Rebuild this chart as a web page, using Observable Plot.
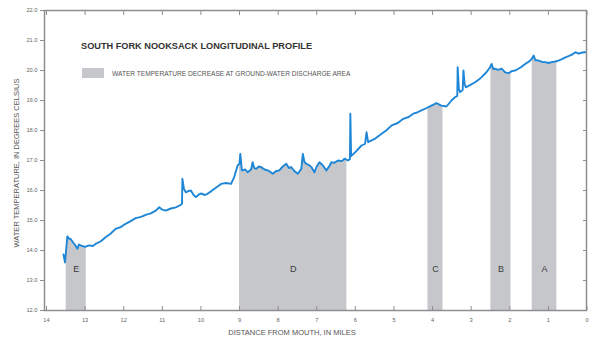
<!DOCTYPE html>
<html>
<head>
<meta charset="utf-8">
<script src="https://cdn.jsdelivr.net/npm/d3@7"></script>
<script src="https://cdn.jsdelivr.net/npm/@observablehq/plot@0.6"></script>
<style>
  html, body { margin: 0; padding: 0; background: #fff; }
  #chart svg { display: block; }
</style>
</head>
<body>
<div id="chart"></div>
<script>
// Longitudinal temperature profile of the South Fork Nooksack River
const miles = [
  13.56, 13.52, 13.46, 13.42, 13.38, 13.30, 13.25, 13.20, 13.16, 13.12, 13.00, 12.90, 12.80, 12.73,
  12.60, 12.47, 12.35, 12.21, 12.08, 11.95, 11.82, 11.69, 11.55, 11.43, 11.30, 11.17, 11.08, 11.00,
  10.91, 10.78, 10.65, 10.55, 10.49, 10.48, 10.44, 10.39, 10.33, 10.26, 10.19, 10.13, 10.06, 10.00,
  9.90, 9.83, 9.73, 9.65, 9.55, 9.48, 9.35, 9.22, 9.14, 9.05, 9.00, 8.98, 8.94, 8.85, 8.79, 8.70,
  8.66, 8.62, 8.57, 8.50, 8.44, 8.35, 8.27, 8.20, 8.14, 8.05, 7.97, 7.88, 7.79, 7.72, 7.66, 7.58,
  7.49, 7.40, 7.36, 7.32, 7.27, 7.20, 7.14, 7.06, 7.00, 6.93, 6.85, 6.75, 6.68, 6.62, 6.55, 6.45,
  6.35, 6.28, 6.19, 6.14, 6.13, 6.11, 6.00, 5.84, 5.75, 5.71, 5.67, 5.50, 5.32, 5.20, 5.06, 4.90,
  4.76, 4.62, 4.50, 4.40, 4.29, 4.15, 4.03, 3.90, 3.77, 3.64, 3.51, 3.42, 3.36, 3.35, 3.32, 3.29,
  3.22, 3.20, 3.17, 3.14, 3.02, 2.90, 2.80, 2.73, 2.60, 2.51, 2.47, 2.43, 2.38, 2.30, 2.21, 2.12,
  2.03, 1.95, 1.86, 1.72, 1.60, 1.50, 1.43, 1.38, 1.34, 1.25, 1.15, 1.08, 1.00, 0.91, 0.82, 0.74,
  0.65, 0.56, 0.48, 0.39, 0.30, 0.22, 0.12, 0.04
];
const temps = [
  13.87, 13.60, 14.47, 14.40, 14.39, 14.25, 14.17, 14.06, 14.20, 14.17, 14.12, 14.17, 14.15, 14.22,
  14.30, 14.44, 14.55, 14.72, 14.78, 14.89, 14.98, 15.08, 15.12, 15.19, 15.24, 15.33, 15.44, 15.36,
  15.33, 15.40, 15.44, 15.50, 15.56, 16.39, 16.05, 15.94, 15.98, 16.00, 15.85, 15.78, 15.86, 15.90,
  15.85, 15.89, 15.98, 16.06, 16.15, 16.22, 16.25, 16.22, 16.44, 16.83, 16.90, 17.22, 16.67, 16.70,
  16.61, 16.70, 16.94, 16.75, 16.72, 16.80, 16.78, 16.70, 16.67, 16.62, 16.56, 16.65, 16.67, 16.80,
  16.89, 16.75, 16.78, 16.65, 16.56, 16.72, 17.22, 16.95, 16.89, 16.85, 16.78, 16.61, 16.80, 16.94,
  16.85, 16.67, 16.80, 16.94, 16.92, 17.00, 16.98, 17.06, 17.00, 17.05, 18.56, 17.15, 17.28, 17.50,
  17.55, 17.94, 17.61, 17.72, 17.89, 18.00, 18.17, 18.25, 18.39, 18.45, 18.56, 18.60, 18.67, 18.75,
  18.83, 18.91, 18.83, 18.80, 19.00, 19.11, 19.15, 20.11, 19.40, 19.28, 19.35, 20.00, 19.55, 19.44,
  19.52, 19.61, 19.70, 19.78, 19.95, 20.11, 20.22, 20.05, 20.06, 20.02, 20.06, 19.94, 19.91, 19.98,
  20.00, 20.10, 20.22, 20.30, 20.39, 20.50, 20.35, 20.33, 20.28, 20.28, 20.25, 20.28, 20.30, 20.33,
  20.38, 20.44, 20.48, 20.53, 20.61, 20.56, 20.60, 20.61
];

// Ground-water discharge reaches (river miles)
const bandNames = ["E", "D", "C", "B", "A"];
const bandFrom  = [13.49, 9.00, 4.12, 2.49, 1.42];
const bandTo    = [12.97, 6.22, 3.73, 1.97, 0.78];

const yTicks = [12, 13, 14, 15, 16, 17, 18, 19, 20, 21, 22];
const xTicks = [14, 13, 12, 11, 10, 9, 8, 7, 6, 5, 4, 3, 2, 1, 0];

const titleText  = "SOUTH FORK NOOKSACK LONGITUDINAL PROFILE";
const legendText = "WATER TEMPERATURE DECREASE AT GROUND-WATER DISCHARGE AREA";
const xTitle = "DISTANCE FROM MOUTH, IN MILES";
const yTitle = "WATER TEMPERATURE, IN DEGREES CELSIUS";

const profile = miles.map((m, i) => ({mile: m, temp: temps[i]}));
const bands = bandNames.map((n, i) => ({name: n, from: bandFrom[i], to: bandTo[i]}));

const axisColor = "#8e8e8e";
const bandFill = "#c6c7cb";
const font = "'Liberation Sans', Arial, sans-serif";

const chart = Plot.plot({
  width: 592,
  height: 341,
  marginLeft: 44,
  marginRight: 6,
  marginTop: 10,
  marginBottom: 31,
  style: {fontFamily: font, fontSize: "5.7px", color: "#5a5a5a", background: "#fff"},
  x: {domain: [14, 0], range: [46, 586.5]},
  y: {domain: [12, 22]},
  marks: [
    // shaded area under the profile; clipped to the discharge reaches below
    Plot.areaY(profile, {x: "mile", y1: 12, y2: "temp", fill: bandFill}),
    Plot.line(profile, {x: "mile", y: "temp", stroke: "#1e86d6", strokeWidth: 1.9, strokeLinejoin: "round"}),
    Plot.text(bands, {x: d => (d.from + d.to) / 2, text: "name", frameAnchor: "bottom", dy: -39,
      fontSize: 9, fill: "#3a3a3a"}),
    Plot.axisY({anchor: "left", ticks: yTicks, tickSize: 4, tickPadding: 3, tickFormat: d3.format(".1f"),
      label: null, stroke: axisColor, fill: "#666"}),
    Plot.axisY({anchor: "right", ticks: yTicks, tickSize: 4, dx: -4, tickFormat: () => "", label: null, stroke: axisColor}),
    Plot.axisX({anchor: "top", ticks: xTicks, tickSize: 4, dy: 4, tickFormat: () => "", label: null, stroke: axisColor}),
    Plot.axisX({anchor: "bottom", ticks: xTicks, tickSize: 4, dy: -4, tickFormat: () => "", label: null, stroke: axisColor}),
    Plot.axisX({anchor: "bottom", ticks: xTicks, tickSize: 0, tickPadding: 7, tickFormat: d3.format("d"),
      label: null, fill: "#666"}),
    Plot.frame({stroke: axisColor, strokeWidth: 1.5})
  ]
});

document.getElementById("chart").append(chart);

const svg = d3.select(chart);
const xs = chart.scale("x");

// Clip the shaded area to the discharge reaches
const clip = svg.insert("defs", ":first-child").append("clipPath").attr("id", "discharge-reaches");
bands.forEach(b => {
  const a = xs.apply(b.from), c = xs.apply(b.to);
  clip.append("rect")
    .attr("x", Math.min(a, c)).attr("width", Math.abs(c - a))
    .attr("y", 0).attr("height", 341);
});
svg.select('g[aria-label="area"]').attr("clip-path", "url(#discharge-reaches)");

// Title and legend inside the plot frame
svg.append("text")
  .attr("x", 81).attr("y", 48.5).attr("text-anchor", "start")
  .attr("font-family", font).attr("font-size", 9.2).attr("font-weight", "bold")
  .attr("fill", "#333")
  .text(titleText);

svg.append("rect")
  .attr("x", 82).attr("y", 68).attr("width", 22).attr("height", 10)
  .attr("fill", bandFill);

svg.append("text")
  .attr("x", 112).attr("y", 75.5).attr("text-anchor", "start")
  .attr("font-family", font).attr("font-size", 6.6).attr("fill", "#555")
  .text(legendText);

// Axis titles
svg.append("text")
  .attr("x", 292).attr("y", 335).attr("text-anchor", "middle")
  .attr("font-family", font).attr("font-size", 7.5).attr("fill", "#555")
  .text(xTitle);

svg.append("text")
  .attr("transform", "translate(19,163) rotate(-90)").attr("text-anchor", "middle")
  .attr("font-family", font).attr("font-size", 7.5).attr("fill", "#555")
  .text(yTitle);
</script>
</body>
</html>
